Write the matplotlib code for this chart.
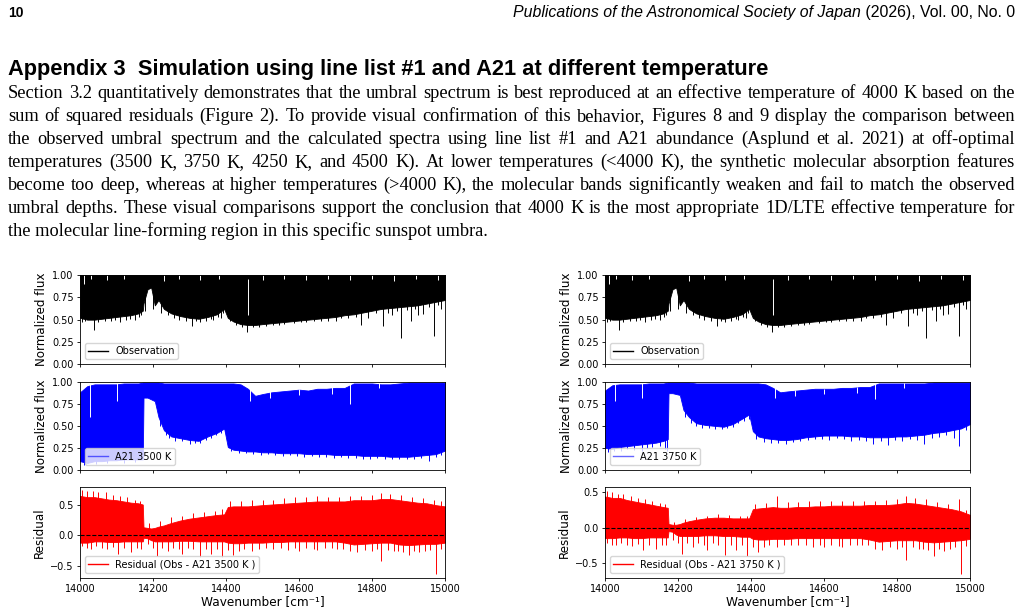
import numpy as np
import matplotlib
matplotlib.use('Agg')
import matplotlib.pyplot as plt

W, H = 1023, 611

wn = [14000, 14020, 14040, 14060, 14080, 14100, 14120, 14140, 14160, 14172,
      14174, 14185, 14195, 14205, 14215, 14230, 14250, 14275, 14300, 14325,
      14350, 14375, 14395, 14405, 14420, 14440, 14460, 14480, 14500, 14525,
      14550, 14575, 14600, 14625, 14650, 14675, 14700, 14725, 14750, 14775,
      14800, 14825, 14850, 14875, 14900, 14925, 14950, 14975, 15000]

# observation: lower / upper envelope of the dense line spectrum
obs_lo = [0.52, 0.50, 0.50, 0.51, 0.52, 0.53, 0.54, 0.55, 0.57, 0.60,
          0.68, 0.84, 0.86, 0.66, 0.72, 0.62, 0.57, 0.54, 0.52, 0.51,
          0.53, 0.56, 0.62, 0.52, 0.48, 0.45, 0.44, 0.44, 0.45, 0.46,
          0.47, 0.48, 0.49, 0.50, 0.51, 0.52, 0.53, 0.55, 0.56, 0.58,
          0.60, 0.62, 0.63, 0.64, 0.65, 0.66, 0.68, 0.70, 0.72]
obs_hi = [1.0] * len(wn)
obs_line_pos = [14005, 14015, 14037, 14050, 14068, 14085, 14097, 14110, 14125, 14138,
                14150, 14162, 14168, 14178, 14200, 14222, 14240, 14258, 14270, 14290,
                14307, 14318, 14330, 14345, 14358, 14365, 14378, 14385, 14392, 14412,
                14428, 14445, 14458, 14475, 14490, 14510, 14530, 14545, 14560, 14585,
                14605, 14620, 14640, 14660, 14680, 14700, 14715, 14735, 14755, 14770,
                14790, 14810, 14830, 14845, 14855, 14868, 14880, 14895, 14906, 14918,
                14925, 14940, 14955, 14970, 14982, 14990]
obs_line_depth = [0.47, 0.49, 0.38, 0.47, 0.48, 0.49, 0.50, 0.47, 0.50, 0.51,
                  0.50, 0.53, 0.55, 0.60, 0.62, 0.58, 0.55, 0.52, 0.50, 0.49,
                  0.43, 0.48, 0.47, 0.49, 0.51, 0.50, 0.53, 0.52, 0.58, 0.48,
                  0.44, 0.42, 0.36, 0.42, 0.42, 0.43, 0.44, 0.44, 0.45, 0.46,
                  0.47, 0.47, 0.48, 0.49, 0.49, 0.48, 0.52, 0.52, 0.53, 0.44,
                  0.52, 0.57, 0.43, 0.58, 0.55, 0.60, 0.30, 0.61, 0.48, 0.62,
                  0.55, 0.56, 0.64, 0.32, 0.66, 0.62]
obs_gap_pos = [14461, 14012, 14030, 14075, 14120, 14230, 14270, 14330, 14380, 14500,
               14560, 14620, 14680, 14740, 14800, 14860, 14920, 14980]
obs_gap_lo = [0.55, 0.90, 0.95, 0.94, 0.95, 0.93, 0.95, 0.94, 0.95, 0.94,
              0.95, 0.94, 0.95, 0.94, 0.95, 0.93, 0.95, 0.94]
obs_gap_hi = [0.95, 1.0, 1.0, 1.0, 1.0, 1.0, 1.0, 1.0, 1.0, 1.0,
              1.0, 1.0, 1.0, 1.0, 1.0, 1.0, 1.0, 1.0]

# A21 3500 K synthetic spectrum
m35_lo = [0.10, 0.08, 0.10, 0.10, 0.11, 0.11, 0.12, 0.12, 0.12, 0.12,
          0.82, 0.82, 0.80, 0.78, 0.60, 0.45, 0.38, 0.36, 0.34, 0.33,
          0.38, 0.42, 0.47, 0.26, 0.23, 0.22, 0.21, 0.21, 0.20, 0.20,
          0.19, 0.19, 0.19, 0.18, 0.18, 0.18, 0.17, 0.17, 0.17, 0.16,
          0.16, 0.16, 0.15, 0.15, 0.15, 0.16, 0.17, 0.18, 0.22]
m35_hi = [0.88, 0.95, 0.97, 0.97, 0.97, 0.97, 0.98, 0.98, 0.98, 0.99,
          0.99, 0.99, 0.99, 0.99, 0.99, 0.98, 0.98, 0.98, 0.98, 0.98,
          0.98, 0.98, 0.98, 0.98, 0.98, 0.97, 0.92, 0.84, 0.86, 0.88,
          0.89, 0.90, 0.91, 0.90, 0.92, 0.92, 0.93, 0.93, 0.98, 0.98,
          0.98, 0.97, 0.97, 0.98, 0.99, 0.99, 0.99, 0.99, 0.99]
m35_line_pos = [14010, 14045, 14075, 14120, 14150, 14220, 14235, 14245, 14260, 14280,
                14300, 14315, 14330, 14345, 14360, 14372, 14385, 14398, 14415, 14435,
                14455, 14475, 14495, 14515, 14535, 14555, 14575, 14595, 14615, 14635,
                14655, 14675, 14695, 14715, 14735, 14755, 14775, 14795, 14815, 14835,
                14855, 14875, 14895, 14915, 14935, 14955, 14975, 14990]
m35_line_depth = [0.06, 0.07, 0.08, 0.08, 0.09, 0.50, 0.40, 0.36, 0.33, 0.33,
                  0.30, 0.31, 0.31, 0.34, 0.36, 0.40, 0.42, 0.43, 0.22, 0.19,
                  0.19, 0.18, 0.17, 0.18, 0.17, 0.16, 0.17, 0.16, 0.15, 0.16,
                  0.15, 0.15, 0.14, 0.15, 0.14, 0.14, 0.13, 0.13, 0.14, 0.12,
                  0.13, 0.12, 0.13, 0.12, 0.14, 0.10, 0.15, 0.17]
m35_gap_pos = [14027, 14100, 14465, 14740, 14520, 14600, 14690, 14820]
m35_gap_lo = [0.60, 0.78, 0.78, 0.75, 0.82, 0.85, 0.86, 0.93]
m35_gap_hi = [0.99, 0.99, 0.93, 0.98, 0.90, 0.92, 0.94, 0.98]

# A21 3750 K synthetic spectrum
m375_lo = [0.25, 0.24, 0.26, 0.27, 0.28, 0.29, 0.30, 0.31, 0.33, 0.35,
           0.87, 0.87, 0.86, 0.85, 0.68, 0.60, 0.53, 0.51, 0.50, 0.49,
           0.52, 0.58, 0.63, 0.44, 0.38, 0.36, 0.35, 0.34, 0.34, 0.35,
           0.37, 0.38, 0.39, 0.39, 0.39, 0.38, 0.38, 0.37, 0.37, 0.37,
           0.38, 0.38, 0.39, 0.40, 0.42, 0.43, 0.45, 0.47, 0.52]
m375_hi = [0.90, 0.96, 0.97, 0.97, 0.97, 0.97, 0.98, 0.98, 0.98, 0.99,
           0.99, 0.99, 0.99, 0.99, 0.99, 0.99, 0.98, 0.98, 0.98, 0.98,
           0.98, 0.98, 0.98, 0.98, 0.98, 0.97, 0.93, 0.88, 0.89, 0.90,
           0.91, 0.92, 0.92, 0.92, 0.93, 0.93, 0.94, 0.94, 0.98, 0.98,
           0.98, 0.98, 0.98, 0.98, 0.99, 0.99, 0.99, 0.99, 0.99]
m375_line_pos = [14008, 14025, 14045, 14060, 14080, 14100, 14115, 14130, 14150, 14165,
                 14171, 14220, 14235, 14250, 14265, 14285, 14300, 14320, 14335, 14350,
                 14365, 14380, 14395, 14415, 14435, 14455, 14475, 14495, 14515, 14535,
                 14555, 14575, 14595, 14615, 14635, 14655, 14675, 14695, 14715, 14735,
                 14755, 14775, 14795, 14815, 14835, 14855, 14875, 14895, 14915, 14935,
                 14955, 14970, 14990]
m375_line_depth = [0.20, 0.22, 0.21, 0.24, 0.23, 0.22, 0.25, 0.26, 0.27, 0.24,
                   0.22, 0.60, 0.53, 0.50, 0.47, 0.48, 0.46, 0.46, 0.47, 0.49,
                   0.53, 0.55, 0.58, 0.35, 0.32, 0.31, 0.31, 0.30, 0.32, 0.33,
                   0.34, 0.35, 0.35, 0.34, 0.36, 0.35, 0.33, 0.34, 0.33, 0.30,
                   0.33, 0.28, 0.34, 0.33, 0.35, 0.34, 0.30, 0.36, 0.37, 0.40,
                   0.36, 0.27, 0.45]
m375_gap_pos = [14027, 14100, 14465, 14740, 14520, 14600, 14690, 14820]
m375_gap_lo = [0.78, 0.82, 0.82, 0.80, 0.84, 0.86, 0.87, 0.93]
m375_gap_hi = [0.99, 0.99, 0.94, 0.98, 0.91, 0.92, 0.94, 0.98]

# residuals (Obs - model)
r35_lo = [-0.12, -0.12, -0.10, -0.10, -0.11, -0.11, -0.10, -0.10, -0.10, -0.10,
          -0.04, -0.05, -0.08, -0.10, -0.10, -0.10, -0.10, -0.09, -0.09, -0.10,
          -0.10, -0.10, -0.10, -0.12, -0.13, -0.13, -0.12, -0.12, -0.12, -0.11,
          -0.11, -0.10, -0.10, -0.10, -0.10, -0.10, -0.10, -0.12, -0.15, -0.14,
          -0.13, -0.12, -0.12, -0.15, -0.16, -0.15, -0.14, -0.14, -0.12]
r35_hi = [0.64, 0.62, 0.62, 0.60, 0.58, 0.57, 0.55, 0.53, 0.52, 0.50,
          0.13, 0.12, 0.11, 0.12, 0.14, 0.16, 0.20, 0.24, 0.27, 0.29,
          0.31, 0.33, 0.34, 0.46, 0.47, 0.47, 0.47, 0.48, 0.49, 0.50,
          0.51, 0.52, 0.53, 0.54, 0.55, 0.55, 0.55, 0.55, 0.57, 0.57,
          0.57, 0.59, 0.59, 0.57, 0.55, 0.53, 0.52, 0.49, 0.47]
r35_dip_pos = [14005, 14020, 14030, 14045, 14060, 14075, 14090, 14105, 14120, 14140,
               14155, 14168, 14185, 14200, 14210, 14225, 14240, 14255, 14270, 14280,
               14295, 14310, 14330, 14345, 14360, 14375, 14390, 14405, 14420, 14435,
               14450, 14470, 14490, 14510, 14530, 14550, 14570, 14590, 14600, 14620,
               14640, 14650, 14670, 14690, 14705, 14720, 14740, 14760, 14780, 14800,
               14815, 14825, 14845, 14860, 14870, 14885, 14900, 14915, 14930, 14945,
               14960, 14975, 14990]
r35_dip_val = [-0.18, -0.20, -0.22, -0.18, -0.20, -0.22, -0.19, -0.30, -0.20, -0.28,
               -0.20, -0.22, -0.15, -0.20, -0.33, -0.20, -0.25, -0.20, -0.22, -0.30,
               -0.20, -0.22, -0.36, -0.22, -0.30, -0.22, -0.36, -0.24, -0.32, -0.25,
               -0.22, -0.25, -0.22, -0.20, -0.22, -0.20, -0.24, -0.20, -0.25, -0.20,
               -0.22, -0.24, -0.20, -0.20, -0.22, -0.22, -0.25, -0.28, -0.24, -0.25,
               -0.22, -0.42, -0.24, -0.25, -0.25, -0.28, -0.32, -0.25, -0.28, -0.25,
               -0.24, -0.63, -0.22]
r35_spike_pos = [14005, 14020, 14035, 14050, 14070, 14090, 14110, 14130, 14150, 14165,
                 14190, 14220, 14250, 14280, 14310, 14340, 14370, 14390, 14410, 14440,
                 14470, 14500, 14530, 14560, 14590, 14620, 14650, 14680, 14710, 14740,
                 14770, 14800, 14825, 14850, 14880, 14910, 14940, 14970, 14990]
r35_spike_val = [0.74, 0.72, 0.72, 0.70, 0.70, 0.66, 0.64, 0.62, 0.58, 0.56,
                 0.20, 0.24, 0.30, 0.32, 0.36, 0.38, 0.40, 0.42, 0.55, 0.56,
                 0.58, 0.58, 0.58, 0.60, 0.62, 0.62, 0.64, 0.63, 0.62, 0.64,
                 0.64, 0.66, 0.68, 0.67, 0.65, 0.62, 0.60, 0.57, 0.55]

r375_lo = [-0.15, -0.15, -0.14, -0.14, -0.15, -0.15, -0.14, -0.14, -0.14, -0.14,
           -0.05, -0.06, -0.10, -0.12, -0.12, -0.12, -0.12, -0.11, -0.11, -0.12,
           -0.12, -0.13, -0.13, -0.16, -0.17, -0.17, -0.16, -0.16, -0.16, -0.15,
           -0.15, -0.15, -0.15, -0.15, -0.15, -0.15, -0.15, -0.17, -0.20, -0.19,
           -0.18, -0.18, -0.18, -0.20, -0.21, -0.20, -0.19, -0.18, -0.16]
r375_hi = [0.44, 0.42, 0.42, 0.39, 0.37, 0.35, 0.33, 0.31, 0.29, 0.28,
           0.05, 0.04, 0.04, 0.05, 0.07, 0.09, 0.11, 0.13, 0.14, 0.14,
           0.13, 0.13, 0.13, 0.26, 0.27, 0.28, 0.29, 0.28, 0.28, 0.29,
           0.29, 0.30, 0.30, 0.31, 0.31, 0.31, 0.31, 0.32, 0.32, 0.32,
           0.33, 0.35, 0.34, 0.32, 0.30, 0.28, 0.26, 0.23, 0.18]
r375_dip_pos = r35_dip_pos
r375_dip_val = [-0.22, -0.24, -0.25, -0.22, -0.24, -0.26, -0.23, -0.32, -0.24, -0.30,
                -0.24, -0.25, -0.17, -0.22, -0.37, -0.22, -0.28, -0.22, -0.24, -0.32,
                -0.22, -0.24, -0.39, -0.25, -0.32, -0.25, -0.40, -0.28, -0.35, -0.28,
                -0.25, -0.28, -0.25, -0.24, -0.25, -0.24, -0.28, -0.24, -0.28, -0.24,
                -0.26, -0.27, -0.24, -0.24, -0.25, -0.25, -0.30, -0.32, -0.28, -0.30,
                -0.27, -0.46, -0.28, -0.30, -0.30, -0.32, -0.40, -0.30, -0.33, -0.30,
                -0.28, -0.66, -0.26]
r375_spike_pos = r35_spike_pos
r375_spike_val = [0.52, 0.50, 0.48, 0.47, 0.45, 0.42, 0.40, 0.38, 0.35, 0.33,
                  0.08, 0.12, 0.15, 0.17, 0.19, 0.18, 0.17, 0.17, 0.33, 0.35,
                  0.45, 0.36, 0.36, 0.37, 0.37, 0.38, 0.38, 0.38, 0.37, 0.38,
                  0.39, 0.40, 0.45, 0.42, 0.40, 0.36, 0.34, 0.40, 0.25]

xticks = [14000, 14200, 14400, 14600, 14800, 15000]
flux_ticks = [0.0, 0.25, 0.5, 0.75, 1.0]
res_ticks = [-0.5, 0.0, 0.5]

header_left = '10'
header_italic = 'Publications of the Astronomical Society of Japan'
header_plain = ' (2026), Vol. 00, No. 0'
heading = 'Appendix 3  Simulation using line list #1 and A21 at different temperature'
paragraph = [
    'Section 3.2 quantitatively demonstrates that the umbral spectrum is best reproduced at an effective temperature of 4000 K based on the',
    'sum of squared residuals (Figure 2).  To provide visual confirmation of this behavior, Figures 8 and 9 display the comparison between',
    'the observed umbral spectrum and the calculated spectra using line list #1 and A21 abundance (Asplund et al. 2021) at off-optimal',
    'temperatures (3500 K, 3750 K, 4250 K, and 4500 K). At lower temperatures (<4000 K), the synthetic molecular absorption features',
    'become too deep, whereas at higher temperatures (>4000 K), the molecular bands significantly weaken and fail to match the observed',
    'umbral depths.  These visual comparisons support the conclusion that 4000 K is the most appropriate 1D/LTE effective temperature for',
    'the molecular line-forming region in this specific sunspot umbra.',
]

fig = plt.figure(figsize=(W / 100, H / 100), dpi=100)
renderer = fig.canvas.get_renderer()


def text_width(s, **kw):
    t = fig.text(0, 0, s, **kw)
    w = t.get_window_extent(renderer).width
    t.remove()
    return w


def put(x, y, s, **kw):
    return fig.text(x / W, 1 - y / H, s, va='baseline', **kw)


# ---- page text ----
sans = ['Liberation Sans', 'DejaVu Sans']
serif = ['Liberation Serif', 'DejaVu Serif']

put(8, 17, header_left, family=sans, weight='bold', fontsize=10)
target = 1015 - 513
w_it = text_width(header_italic, family=sans, style='italic', fontsize=10)
w_pl = text_width(header_plain, family=sans, fontsize=10)
fs_head = 10 * target / (w_it + w_pl)
w_pl = text_width(header_plain, family=sans, fontsize=fs_head)
put(1015, 17, header_plain, family=sans, fontsize=fs_head, ha='right')
put(1015 - w_pl, 17, header_italic, family=sans, style='italic', fontsize=fs_head, ha='right')

w_h = text_width(heading, family=sans, weight='bold', fontsize=12)
put(8, 75, heading, family=sans, weight='bold', fontsize=12 * 757 / w_h)

widest = max(text_width(' '.join(l.split()), family=serif, fontsize=11) for l in paragraph[:-1])
fs_par = 11 * 995 / widest
for i, line in enumerate(paragraph):
    y = 98 + 23 * i
    if i == len(paragraph) - 1:
        put(8, y, line, family=serif, fontsize=fs_par)
        continue
    words = line.split()
    widths = [text_width(w, family=serif, fontsize=fs_par) for w in words]
    gap = (1015 - 8 - sum(widths)) / (len(words) - 1)
    x = 8
    for w, wd in zip(words, widths):
        put(x, y, w, family=serif, fontsize=fs_par)
        x += wd + gap


# ---- figure panels ----
def style_axes(ax, bottom=False):
    ax.set_xlim(14000, 15000)
    ax.set_xticks(xticks)
    ax.tick_params(labelsize=7, length=2.5, width=0.6, pad=2)
    for s in ax.spines.values():
        s.set_linewidth(0.6)
    if not bottom:
        ax.tick_params(labelbottom=False)


def spectrum(ax, lo, hi, color, line_pos, line_depth, gap_pos, gap_lo, gap_hi):
    ax.fill_between(wn, lo, hi, color=color, lw=0.6, edgecolor=color)
    top = np.interp(line_pos, wn, lo) + 0.03
    ax.vlines(line_pos, line_depth, top, color=color, lw=0.7)
    ax.vlines(gap_pos, gap_lo, gap_hi, color='white', lw=0.7)


def panel(x0, model_lo, model_hi, m_pos, m_depth, g_pos, g_lo, g_hi,
          res_lo, res_hi, d_pos, d_val, s_pos, s_val, temp, res_ylim):
    w = 365
    rows = [(275, 364.3), (381.7, 470), (487.3, 577.7)]
    axs = [fig.add_axes([x0 / W, 1 - b / H, w / W, (b - t) / H]) for t, b in rows]
    leg = dict(loc='lower left', fontsize=7, handlelength=2, borderpad=0.35)

    ax = axs[0]
    spectrum(ax, obs_lo, obs_hi, 'black', obs_line_pos, obs_line_depth,
             obs_gap_pos, obs_gap_lo, obs_gap_hi)
    ax.plot([], [], color='black', lw=1, label='Observation')
    ax.set_ylim(0, 1)
    ax.set_yticks(flux_ticks)
    ax.set_ylabel('Normalized flux', fontsize=8.6, labelpad=3)
    ax.legend(**leg)
    style_axes(ax)

    ax = axs[1]
    spectrum(ax, model_lo, model_hi, 'blue', m_pos, m_depth, g_pos, g_lo, g_hi)
    ax.plot([], [], color='blue', lw=1, alpha=0.6, label='A21 %s K' % temp)
    ax.set_ylim(0, 1)
    ax.set_yticks(flux_ticks)
    ax.set_ylabel('Normalized flux', fontsize=8.6, labelpad=3)
    ax.legend(**leg)
    style_axes(ax)

    ax = axs[2]
    ax.fill_between(wn, res_lo, res_hi, color='red', lw=0.6, edgecolor='red')
    ax.vlines(d_pos, d_val, np.interp(d_pos, wn, res_lo) + 0.03, color='red', lw=0.7)
    ax.vlines(s_pos, np.interp(s_pos, wn, res_hi) - 0.03, s_val, color='red', lw=0.7)
    ax.axhline(0, color='black', ls='--', lw=0.8)
    ax.plot([], [], color='red', lw=1, label='Residual (Obs - A21 %s K )' % temp)
    ax.set_ylim(*res_ylim)
    ax.set_yticks(res_ticks)
    ax.set_ylabel('Residual', fontsize=8.6, labelpad=3)
    ax.set_xlabel('Wavenumber [cm⁻¹]', fontsize=8.7, labelpad=1)
    ax.legend(**leg)
    style_axes(ax, bottom=True)


panel(80, m35_lo, m35_hi, m35_line_pos, m35_line_depth, m35_gap_pos, m35_gap_lo,
      m35_gap_hi, r35_lo, r35_hi, r35_dip_pos, r35_dip_val, r35_spike_pos,
      r35_spike_val, '3500', (-0.69, 0.78))
panel(605, m375_lo, m375_hi, m375_line_pos, m375_line_depth, m375_gap_pos,
      m375_gap_lo, m375_gap_hi, r375_lo, r375_hi, r375_dip_pos, r375_dip_val,
      r375_spike_pos, r375_spike_val, '3750', (-0.71, 0.57))

fig.savefig('out.png', dpi=100)
